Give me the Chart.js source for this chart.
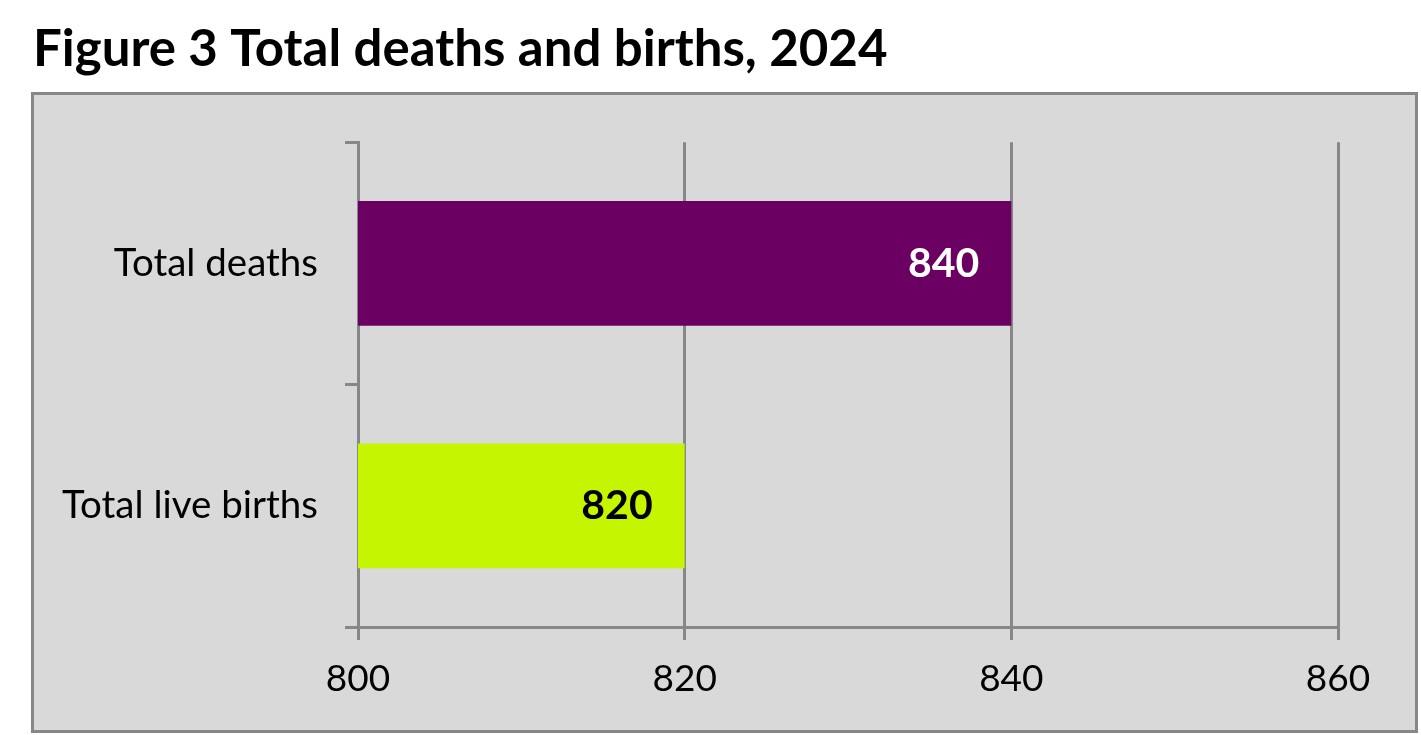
<!DOCTYPE html>
<html>
<head>
<meta charset="utf-8">
<script src="https://cdn.jsdelivr.net/npm/chart.js@4/dist/chart.umd.min.js"></script>
<style>
  html, body { margin: 0; padding: 0; background: #ffffff; }
  #wrap { width: 1421px; height: 735px; position: relative; }
</style>
</head>
<body>
<div id="wrap"><canvas id="myChart" width="1421" height="735"></canvas></div>
<script>
var categories = ['Total deaths', 'Total live births'];
var values = [840, 820];
var barColors = ['#6c0062', '#c6f500'];
var labelColors = ['#ffffff', '#000000'];
var xTicks = [800, 820, 840, 860];

var FONT = 'Lato, "DejaVu Sans", sans-serif';
var GRID = '#878787';

// grey panel with a border behind the chart
var panelPlugin = {
    id: 'panel',
    beforeDraw: function(chart) {
        var c = chart.ctx;
        c.save();
        c.fillStyle = '#ffffff';
        c.fillRect(0, 0, chart.width, chart.height);
        c.fillStyle = '#d9d9d9';
        c.fillRect(32, 93, 1385, 639);
        c.strokeStyle = GRID;
        c.lineWidth = 3;
        c.strokeRect(32.5, 93.5, 1384, 638);
        c.restore();
    }
};

// value labels at the inside end of each bar
var valueLabels = {
    id: 'valueLabels',
    afterDatasetsDraw: function(chart) {
        var c = chart.ctx;
        var meta = chart.getDatasetMeta(0);
        c.save();
        c.font = 'bold 41px ' + FONT;
        c.textAlign = 'right';
        c.textBaseline = 'middle';
        meta.data.forEach(function(bar, i) {
            c.fillStyle = labelColors[i];
            c.fillText(String(values[i]), bar.x - 32, bar.y);
        });
        c.restore();
    }
};

var ctx = document.getElementById('myChart').getContext('2d');
var myChart = new Chart(ctx, {
    type: 'bar',
    data: {
        labels: categories,
        datasets: [{
            data: values,
            backgroundColor: barColors,
            borderWidth: 0,
            barPercentage: 0.515,
            categoryPercentage: 1
        }]
    },
    options: {
        indexAxis: 'y',
        responsive: false,
        animation: false,
        layout: { padding: { left: 33, right: 83, top: 0, bottom: 0 } },
        plugins: {
            legend: { display: false },
            tooltip: { enabled: false },
            title: {
                display: true,
                text: 'Figure 3 Total deaths and births, 2024',
                align: 'start',
                color: '#000000',
                font: { family: FONT, size: 51, weight: 'bold', lineHeight: 1.2 },
                padding: { top: 19, bottom: 62 }
            }
        },
        scales: {
            x: {
                min: 800,
                max: 860,
                afterBuildTicks: function(axis) {
                    axis.ticks = xTicks.map(function(v) { return { value: v }; });
                },
                afterFit: function(axis) { axis.height = 108; },
                grid: {
                    color: GRID,
                    lineWidth: 3,
                    tickLength: 13,
                    drawOnChartArea: true
                },
                border: { display: true, color: GRID, width: 3 },
                ticks: {
                    color: '#000000',
                    padding: 17,
                    font: { family: FONT, size: 37 }
                }
            },
            y: {
                offset: true,
                afterFit: function(axis) { axis.width = 325; },
                grid: {
                    offset: true,
                    color: GRID,
                    lineWidth: 3,
                    tickLength: 13,
                    drawOnChartArea: false
                },
                border: { display: true, color: GRID, width: 3 },
                ticks: {
                    color: '#000000',
                    padding: 27,
                    font: { family: FONT, size: 38.5 }
                }
            }
        }
    },
    plugins: [panelPlugin, valueLabels]
});
</script>
</body>
</html>
